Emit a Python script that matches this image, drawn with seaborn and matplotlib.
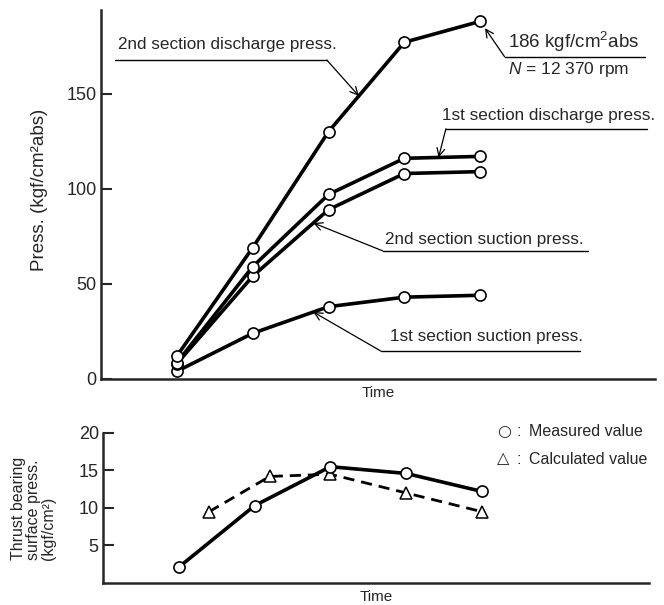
import numpy as np
import matplotlib
matplotlib.use("Agg")
import matplotlib.pyplot as plt
import seaborn as sns

# time axis is unlabelled in the original, points are evenly spaced
time_upper = [1, 2, 3, 4, 5]
disch_2nd = [12, 69, 130, 177, 188]
disch_1st = [8.5, 59, 97, 116, 117]
suct_2nd = [8, 54, 89, 108, 109]
suct_1st = [4, 24, 38, 43, 44]

time_meas = [1, 2, 3, 4, 5]
thrust_meas = [2.1, 10.3, 15.5, 14.6, 12.2]
time_calc = [1.4, 2.2, 3.0, 4.0, 5.0]
thrust_calc = [9.5, 14.2, 14.5, 12.0, 9.5]

sns.set_style("ticks")
plt.rcParams['font.family'] = ['Liberation Sans', 'DejaVu Sans']
plt.rcParams['mathtext.fontset'] = 'custom'
plt.rcParams['mathtext.rm'] = 'Liberation Sans'
plt.rcParams['mathtext.it'] = 'Liberation Sans:italic'

fig = plt.figure(figsize=(6.64, 6.05), dpi=100)
ax1 = fig.add_axes([0.152, 0.3736, 0.834, 0.610])
ax2 = fig.add_axes([0.155, 0.0364, 0.822, 0.248])

line_kw = dict(color='black', lw=2.6, marker='o', markersize=8,
               markerfacecolor='white', markeredgecolor='black',
               markeredgewidth=1.2)
for vals in [suct_1st, suct_2nd, disch_1st, disch_2nd]:
    sns.lineplot(x=time_upper, y=vals, ax=ax1, **line_kw)

sns.lineplot(x=time_calc, y=thrust_calc, ax=ax2, color='black', lw=2.0,
             linestyle=(0, (4, 2.5)), marker='^', markersize=8.5,
             markerfacecolor='white', markeredgecolor='black', markeredgewidth=1.1)
sns.lineplot(x=time_meas, y=thrust_meas, ax=ax2, **line_kw)

for ax in (ax1, ax2):
    sns.despine(ax=ax)
    ax.spines['left'].set_linewidth(1.8)
    ax.spines['bottom'].set_linewidth(1.8)
    ax.set_xticks([])
    ax.tick_params(axis='y', direction='in', length=8, width=1.5, labelsize=13, pad=3)
    ax.set_xlabel('Time', fontsize=11, labelpad=5)
    ax.set_ylabel('')

ax1.set_xlim(0, 7.3)
ax1.set_ylim(0, 194)
ax1.set_yticks([0, 50, 100, 150])
ax2.set_xlim(0, 7.2)
ax2.set_ylim(0, 20)
ax2.set_yticks([5, 10, 15, 20])

fig.text(0.06, 0.686, 'Press. (kgf/cm²abs)', rotation=90, fontsize=13.5,
         ha='center', va='center')
fig.text(0.05, 0.16, 'Thrust bearing\nsurface press.\n(kgf/cm²)', rotation=90,
         fontsize=11.5, ha='center', va='center', multialignment='left', linespacing=1.0)

# labelled leaders: (text, text xy, underline x0, x1, y, leader start x, tip series, tip t)
arrow = dict(arrowstyle='->', lw=0.9, color='black', shrinkA=0, shrinkB=0,
             mutation_scale=14)
labels = [
    ('2nd section discharge press.', (0.031, 0.905), 0.025, 0.408, 0.864, 0.408, disch_2nd, 3.4),
    ('1st section discharge press.', (0.615, 0.715), 0.623, 0.986, 0.678, 0.623, disch_1st, 4.45),
    ('2nd section suction press.', (0.513, 0.377), 0.509, 0.880, 0.347, 0.509, suct_2nd, 2.8),
    ('1st section suction press.', (0.522, 0.114), 0.505, 0.866, 0.076, 0.505, suct_1st, 2.8),
]
for txt, pos, x0, x1, uy, lx, series, tt in labels:
    ax1.text(pos[0], pos[1], txt, transform=ax1.transAxes, fontsize=12.3,
             ha='left', va='center')
    ax1.plot([x0, x1], [uy, uy], transform=ax1.transAxes, color='black',
             lw=1.0, clip_on=False)
    ax1.annotate('', xy=(tt, np.interp(tt, time_upper, series)), xycoords='data',
                 xytext=(lx, uy), textcoords='axes fraction', arrowprops=arrow)

# peak value note
ax1.text(0.735, 0.912, '186 kgf/cm$^{2}$abs', transform=ax1.transAxes,
         fontsize=13.5, ha='left', va='center')
ax1.text(0.735, 0.838, '$N$ = 12 370 rpm', transform=ax1.transAxes,
         fontsize=12.5, ha='left', va='center')
ax1.plot([0.729, 0.982], [0.873, 0.873], transform=ax1.transAxes, color='black',
         lw=1.0, clip_on=False)
ax1.annotate('', xy=(time_upper[-1], disch_2nd[-1]), xycoords='data',
             xytext=(0.729, 0.873), textcoords='axes fraction',
             arrowprops=dict(arrowstyle='->', lw=0.9, color='black', shrinkA=0,
                             shrinkB=6, mutation_scale=14))

# legend of the lower panel
leg_y = [1 - 432 / 605, 1 - 459 / 605]
for sym, txt, y in zip(['○', '△'], ['Measured value', 'Calculated value'], leg_y):
    fig.text(0.749, y, sym, fontsize=11.5, ha='left', va='center',
             family=['DejaVu Sans'])
    fig.text(0.778, y, ':', fontsize=12, ha='left', va='center')
    fig.text(0.797, y, txt, fontsize=11.5, ha='left', va='center')

fig.savefig('out.png', dpi=100)
